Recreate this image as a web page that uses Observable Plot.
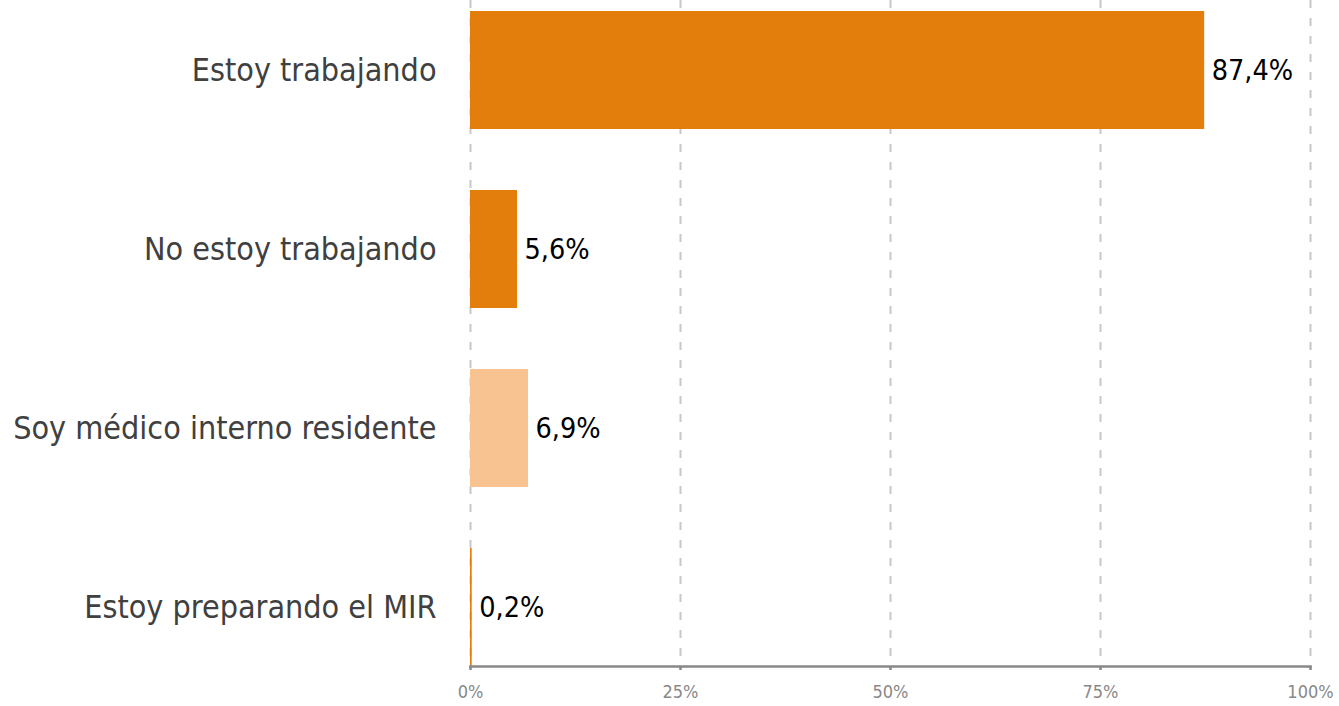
<!DOCTYPE html>
<html><head><meta charset="utf-8">
<script src="https://cdn.jsdelivr.net/npm/d3@7"></script>
<script src="https://cdn.jsdelivr.net/npm/@observablehq/plot@0.6"></script>
<style>
body{margin:0;background:#fff;}
</style>
</head><body>
<div id="chart"></div>
<script>
const categories = ["Estoy trabajando","No estoy trabajando","Soy médico interno residente","Estoy preparando el MIR"];
const values = [87.4, 5.6, 6.9, 0.2];
const labels = ["87,4%","5,6%","6,9%","0,2%"];
const colors = ["#E37D0B","#E37D0B","#F9C291","#E37D0B"];
const ticks = [0,25,50,75,100];
const tickLabels = ["0%","25%","50%","75%","100%"];

const data = categories.map((c,i)=>({cat:c, v:values[i], label:labels[i], color:colors[i]}));
const font = "'DejaVu Sans Condensed', 'DejaVu Sans', sans-serif";

const chart = Plot.plot({
  width: 1339, height: 706,
  marginLeft: 470, marginRight: 29, marginTop: 0, marginBottom: 40,
  style: {fontFamily: font, background: "#fff"},
  x: {domain: [0,100], axis: null},
  y: {domain: categories, paddingInner: 0.34, paddingOuter: 0.03, align: 1, axis: null},
  marks: [
    Plot.ruleX(ticks, {x: d=>d, stroke: "#c8c8c8", strokeWidth: 2, strokeDasharray: "8,10"}),
    Plot.barX(data, {x: "v", y: "cat", fill: "color"}),
    Plot.frame({anchor: "bottom", stroke: "#888", strokeWidth: 2.5}),
    Plot.axisX({ticks: ticks, tickFormat: null, text: null, label: null, tickSize: 4, stroke: "#888", strokeWidth: 2.5}),
    Plot.text(ticks, {x: d=>d, frameAnchor: "bottom", text: (d,i)=>tickLabels[i], dy: 31, fontSize: 18, fill: "#888"}),
    Plot.text(data, {x: "v", y: "cat", text: "label", textAnchor: "start", dx: 7, fontSize: 28.5, fill: "#000"}),
    Plot.text(data, {x: 0, y: "cat", text: "cat", textAnchor: "end", dx: -34, fontSize: 32, fill: "#404040"})
  ]
});
document.getElementById("chart").appendChild(chart);
</script>
</body></html>
